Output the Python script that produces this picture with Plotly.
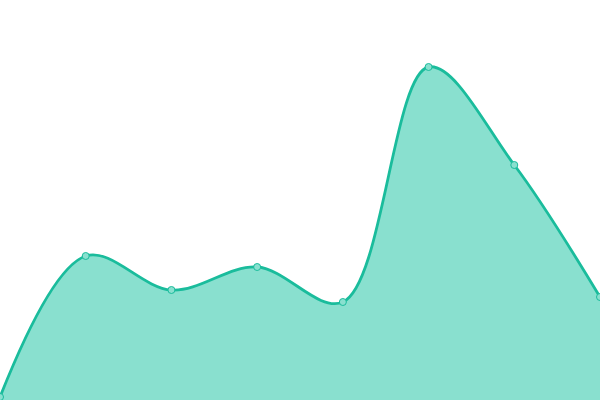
import plotly.graph_objects as go

# data
x_vals = [0, 1, 2, 3, 4, 5, 6, 7]
y_vals = [3, 144, 110, 133, 98, 333, 235, 103]

line_color = "#1abc9c"
fill_color = "#89e0cf"

fig = go.Figure()
fig.add_trace(go.Scatter(
    x=x_vals,
    y=y_vals,
    mode="lines+markers",
    line=dict(color=line_color, width=2.8, shape="spline", smoothing=1),
    marker=dict(size=7, color=fill_color, line=dict(color=line_color, width=1)),
    fill="tozeroy",
    fillcolor=fill_color,
    hoverinfo="skip",
))

fig.update_layout(
    width=600, height=400,
    margin=dict(l=0, r=0, t=0, b=0),
    paper_bgcolor="white", plot_bgcolor="white",
    showlegend=False,
    xaxis=dict(visible=False, range=[0, 7]),
    yaxis=dict(visible=False, range=[0, 400]),
)

# drop the page margin so the chart sits flush in the window
fig.write_html(
    "out.html",
    config={"displayModeBar": False},
    post_script="document.body.style.margin='0';document.body.style.overflow='hidden';",
)
